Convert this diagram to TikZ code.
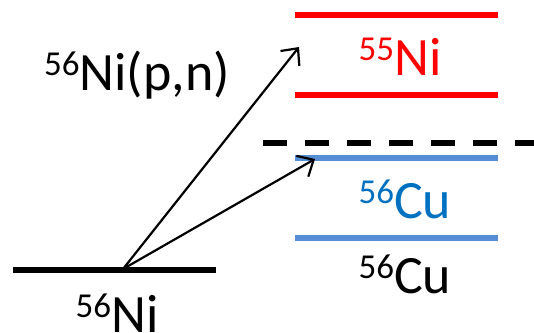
\documentclass[tikz,border=0pt]{standalone}
\usepackage{fontspec}
\setmainfont{Carlito}
\usetikzlibrary{arrows.meta}
\definecolor{lvlred}{HTML}{FF0000}
\definecolor{lvlblue}{HTML}{558ED5}
\definecolor{txtblue}{HTML}{0070C0}
\newcommand{\iso}[2]{{\fontsize{35}{35}\selectfont\raisebox{15pt}{#1}}#2}
\tikzset{
  lbl/.style={inner sep=0pt, anchor=base, font=\fontsize{54}{60}\selectfont},
  level/.style={line width=5.5pt},
  arr/.style={line width=2.2pt, -{Straight Barb[length=13pt,width=24pt,line width=2.2pt]}},
}
\begin{document}
\begin{tikzpicture}[x=1pt,y=-1pt]
\useasboundingbox (0,0) rectangle (534,332);
% levels
\draw[level, lvlred] (295,15) -- (498,15);
\draw[level, lvlred] (295,95) -- (498,95);
\draw[level, black, dash pattern=on 24pt off 18pt] (263,143) -- (540,143);
\draw[level, lvlblue] (295,158) -- (498,158);
\draw[level, lvlblue] (295,238) -- (498,238);
\draw[level, black] (13,270) -- (216,270);
% labels
\node[lbl, text=lvlred] (ni55) at (400,75) {\iso{55}{Ni}};
\node[lbl, text=txtblue] (cu56a) at (405,218) {\iso{56}{Cu}};
\node[lbl] (cu56b) at (405,293) {\iso{56}{Cu}};
\node[lbl] (ni56) at (117,332) {\iso{56}{Ni}};
\node[lbl] (react) at (137,90) {\iso{56}{Ni(p,n)}};
% arrows
\coordinate (src) at (123,269);
\coordinate (t1) at (299,47);
\coordinate (t2) at (315,159);
\draw[arr] (src) -- (t1);
\draw[arr] (src) -- (t2);
\end{tikzpicture}
\end{document}
